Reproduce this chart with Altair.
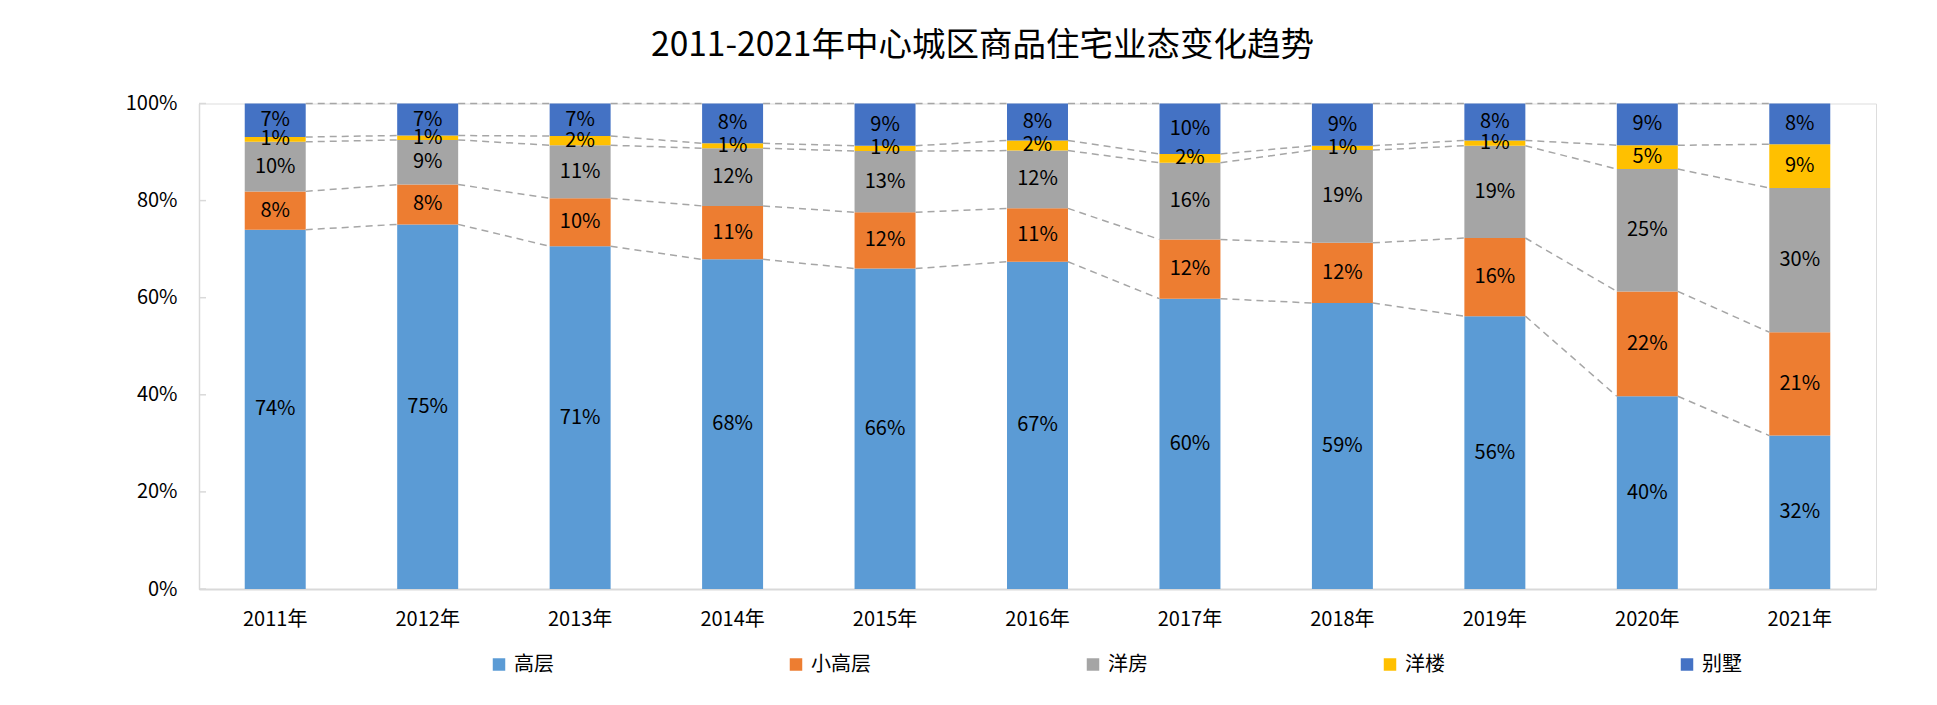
import altair as alt
import pandas as pd

FONT = "Noto Sans CJK SC"

title_text = "2011-2021年中心城区商品住宅业态变化趋势"
years = ["2011年", "2012年", "2013年", "2014年", "2015年", "2016年",
         "2017年", "2018年", "2019年", "2020年", "2021年"]
series = ["高层", "小高层", "洋房", "洋楼", "别墅"]
colors = ["#5B9BD5", "#ED7D31", "#A5A5A5", "#FFC000", "#4472C4"]

high_rise = [74.0, 75.1, 70.6, 67.9, 66.0, 67.4, 59.8, 58.9, 56.2, 39.7, 31.6]
small_high = [7.9, 8.2, 9.9, 11.0, 11.6, 11.0, 12.2, 12.4, 16.1, 21.6, 21.3]
garden_house = [10.2, 9.2, 10.9, 11.9, 12.6, 11.9, 15.8, 19.1, 19.0, 25.2, 29.7]
western_bldg = [1.0, 0.9, 1.9, 1.0, 1.1, 2.1, 1.8, 0.9, 1.1, 4.9, 9.0]
villa = [6.9, 6.6, 6.7, 8.2, 8.7, 7.6, 10.4, 8.7, 7.6, 8.6, 8.4]

y_ticks = [0, 20, 40, 60, 80, 100]

all_vals = [high_rise, small_high, garden_house, western_bldg, villa]

# stacked segments
rows = []
tops = {}
for i, yr in enumerate(years):
    base = 0.0
    for s, vals in zip(series, all_vals):
        v = vals[i]
        rows.append({"year": yr, "series": s, "y0": base, "y1": base + v,
                     "mid": base + v / 2, "label": f"{round(v)}%"})
        base += v
        tops[(s, i)] = base
df = pd.DataFrame(rows)

# series lines between adjacent bars
seg = []
for s in series:
    for i in range(len(years) - 1):
        seg.append({"year": years[i], "year2": years[i + 1],
                    "ya": tops[(s, i)], "yb": tops[(s, i + 1)]})
seg_df = pd.DataFrame(seg)

yscale = alt.Scale(domain=[0, 100], nice=False, zero=True)
xscale = alt.Scale(paddingInner=0.6, paddingOuter=0.3)

x_axis = alt.Axis(title=None, labelAngle=0, ticks=False, domainColor="#D9D9D9",
                  domainWidth=2, labelFontSize=20, labelPadding=20,
                  labelColor="#000000", labelFont=FONT)
y_axis = alt.Axis(title=None, values=y_ticks, labelExpr="datum.value + '%'",
                  grid=False, ticks=False, domainColor="#D9D9D9", domainWidth=1.5,
                  labelFontSize=20, labelPadding=22, labelColor="#000000",
                  labelFont=FONT)

bars = alt.Chart(df).mark_bar().encode(
    x=alt.X("year:N", sort=years, scale=xscale, axis=x_axis),
    y=alt.Y("y0:Q", scale=yscale, axis=y_axis),
    y2="y1:Q",
    color=alt.Color("series:N", sort=series,
                    scale=alt.Scale(domain=series, range=colors),
                    legend=alt.Legend(title=None, orient="none", legendX=290, legendY=551,
                                      direction="horizontal", columns=5, gridAlign="all",
                                      columnPadding=212, symbolType="square",
                                      symbolSize=156, symbolStrokeWidth=0,
                                      labelFontSize=20, labelFont=FONT,
                                      labelColor="#000000", labelOffset=5, padding=0)),
)

lines = alt.Chart(seg_df).mark_rule(
    color="#A6A6A6", strokeWidth=1.5, strokeDash=[7, 5], xOffset=30.5, x2Offset=-30.5
).encode(
    x=alt.X("year:N", sort=years, bandPosition=0.5),
    x2="year2:N",
    y="ya:Q",
    y2="yb:Q",
)

ticks = alt.Chart(pd.DataFrame({"t": y_ticks})).mark_rule(
    color="#D9D9D9", strokeWidth=1.5
).encode(y="t:Q", x=alt.value(0), x2=alt.value(7))

labels = alt.Chart(df).mark_text(
    fontSize=20, font=FONT, color="#000000", baseline="middle", align="center"
).encode(
    x=alt.X("year:N", sort=years, bandPosition=0.5),
    y="mid:Q",
    text="label:N",
)

chart = alt.layer(bars, lines, ticks, labels).properties(
    width=1677,
    height=485.5,
    autosize=alt.AutoSizeParams(type="none"),
    padding={"left": 191, "top": 95.5, "right": 50, "bottom": 100},
    title=alt.TitleParams(title_text, fontSize=33.5, font=FONT, fontWeight="normal",
                          color="#000000", anchor="middle", dx=-55, offset=4,
                          baseline="alphabetic"),
).configure_view(stroke=None).configure(font=FONT)

chart.save("out.html", embed_options={"renderer": "svg", "actions": False})
